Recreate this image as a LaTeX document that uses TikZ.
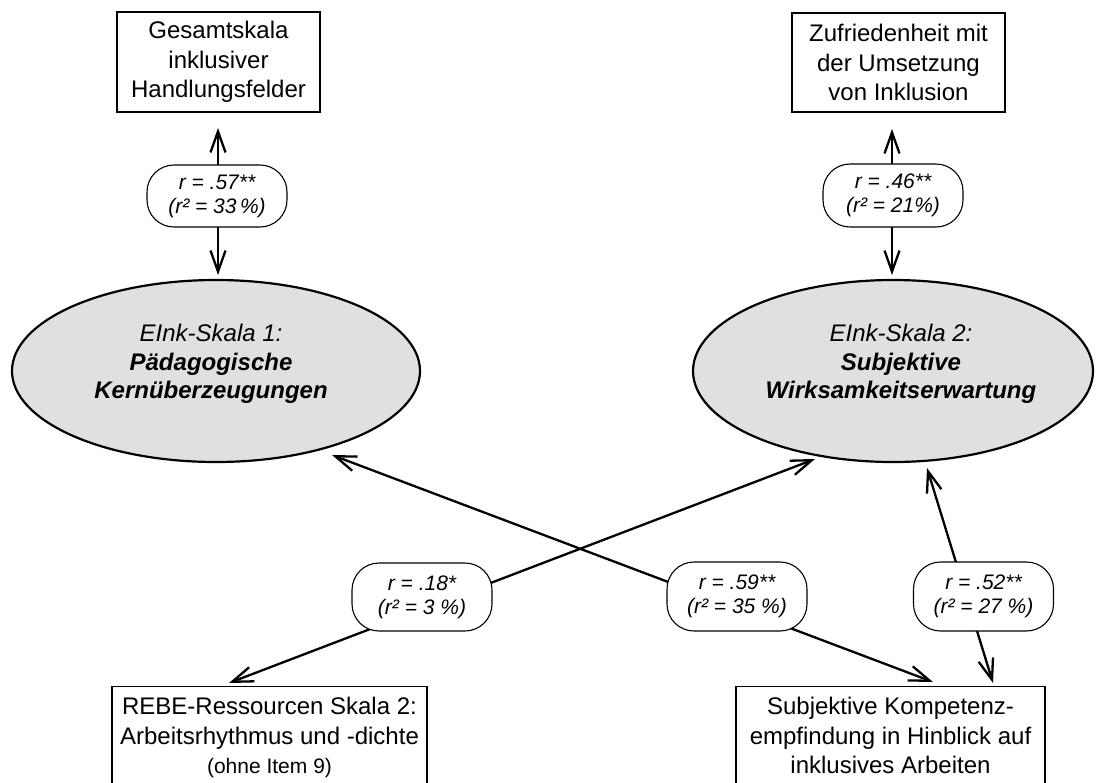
\documentclass[tikz,border=0pt]{standalone}
\usepackage{fontspec}
\setmainfont{Liberation Sans}
\usetikzlibrary{shapes.geometric,arrows.meta}
\definecolor{ellfill}{HTML}{E0E0E0}
\begin{document}
\begin{tikzpicture}[x=1pt,y=-1pt,
  every node/.style={font=\fontsize{24}{29.5}\selectfont},
  box/.style={draw, line width=1.2pt, fill=white, align=center, inner sep=0pt},
  ell/.style={ellipse, draw, line width=2.2pt, fill=ellfill, inner sep=0pt},
  elltext/.style={align=center, font=\fontsize{24}{28.5}\selectfont},
  pill/.style={draw, line width=1.1pt, fill=white, rounded corners=27pt,
    minimum width=140pt, inner sep=0pt, align=center,
    font=\fontsize{21}{24}\selectfont\itshape},
  link/.style={line width=2.3pt,
    {Straight Barb[length=21pt,width=15pt]}-{Straight Barb[length=21pt,width=15pt]}}
]
\clip (0,0) rectangle (1097,782);
\fill[white] (0,0) rectangle (1097,782);

% top boxes
\node[box, minimum width=203pt, minimum height=100pt] (gesamt) at (218.5,62)
  {Gesamtskala\\inklusiver\\Handlungsfelder};
\node[box, minimum width=213pt, minimum height=99pt] (zufr) at (898.5,62.5)
  {Zufriedenheit mit\\der Umsetzung\\von Inklusion};

% scales
\node[ell, minimum width=408pt, minimum height=182pt] (eink1) at (216,371) {};
\node[elltext] at ([xshift=-5pt,yshift=7pt]eink1.center)
  {\textit{EInk-Skala 1:}\\\textbf{\textit{Pädagogische}}\\\textbf{\textit{Kernüberzeugungen}}};
\node[ell, minimum width=400pt, minimum height=182pt] (eink2) at (893,371) {};
\node[elltext] at ([xshift=8pt,yshift=7pt]eink2.center)
  {\textit{EInk-Skala 2:}\\\textbf{\textit{Subjektive}}\\\textbf{\textit{Wirksamkeitserwartung}}};

% bottom boxes
\node[box, anchor=north] (rebe) at (269.5,686)
  {\parbox[t][110pt][t]{315pt}{\centering\rule{0pt}{28pt}REBE-Ressourcen Skala 2:\\
   Arbeitsrhythmus und -dichte\\{\fontsize{21}{26}\selectfont (ohne Item 9)}}};
\node[box, anchor=north] (komp) at (890.5,686)
  {\parbox[t][110pt][t]{309pt}{\centering\rule{0pt}{28pt}Subjektive Kompetenz-\\
   empfindung in Hinblick auf\\inklusives Arbeiten}};

% arrow end points
\coordinate (a1) at (218,128);
\coordinate (a2) at (218,275);
\coordinate (b1) at (892,129);
\coordinate (b2) at (892,275);
\coordinate (c1) at (229,683);
\coordinate (c2) at (815,459);
\coordinate (d1) at (332,455);
\coordinate (d2) at (933,682);
\coordinate (f1) at (927,468);
\coordinate (f2) at (993,683);

\draw[link] (a1) -- (a2);
\draw[link] (b1) -- (b2);
\draw[link] (c1) -- (c2);
\draw[link] (d1) -- (d2);
\draw[link] (f1) -- (f2);

% correlation labels
\node[pill, minimum height=62pt] (r57) at (217,196) {r = .57**\\(r² = 33\,\%)};
\node[pill, minimum height=63pt] (r46) at (893,195.5) {r = .46**\\(r² = 21\%)};
\node[pill, minimum height=68pt] (r18) at (422,597) {r = .18*\\(r² = 3 \%)};
\node[pill, minimum height=69pt] (r59) at (737,596.5) {r = .59**\\(r² = 35 \%)};
\node[pill, minimum height=69pt] (r52) at (983.5,596.5) {r = .52**\\(r² = 27 \%)};
\end{tikzpicture}
\end{document}
